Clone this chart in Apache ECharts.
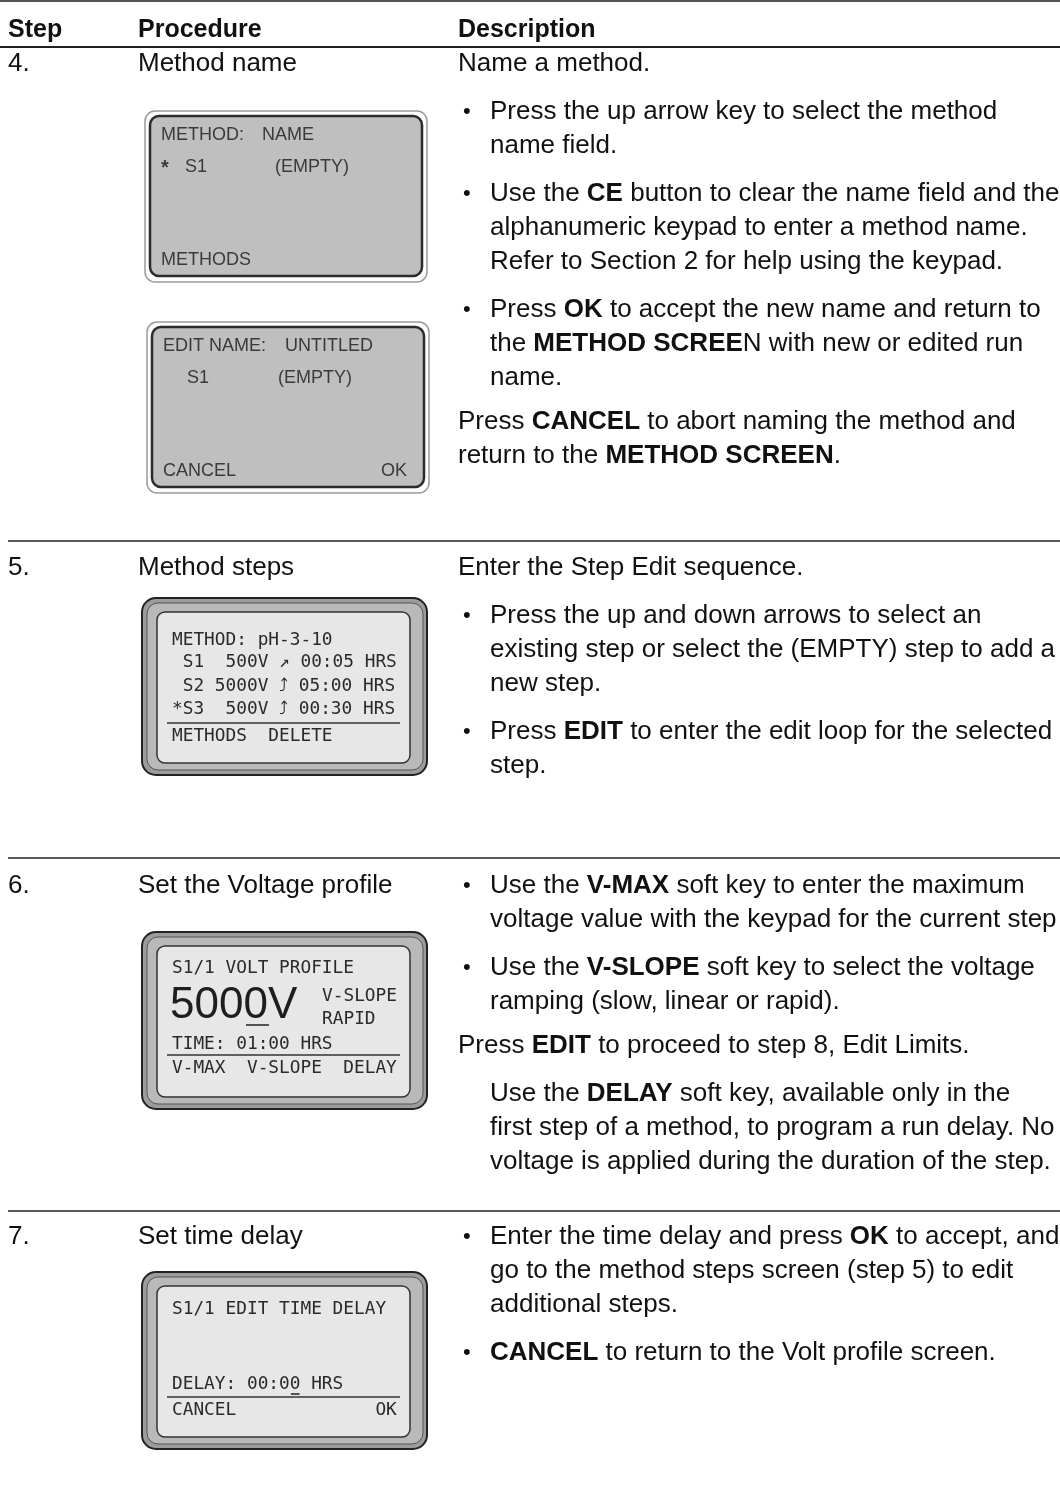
<!DOCTYPE html>
<html><head><meta charset="utf-8">
<script src="https://cdn.jsdelivr.net/npm/echarts@6/dist/echarts.min.js"></script>
<style>html,body{margin:0;padding:0;background:#fff}#c{width:1060px;height:1487px}</style>
</head><body><div id="c"></div><script>
// ---- content ----
const headers = ['Step', 'Procedure', 'Description'];
const stepNumbers = ['4.', '5.', '6.', '7.'];
const procedures = ['Method name', 'Method steps', 'Set the Voltage profile', 'Set time delay'];
// paragraph kinds: p = plain, b = bullet, i = indented plain
const desc4 = [
  ['p', ['Name a method.']],
  ['b', ['Press the up arrow key to select the method', 'name field.']],
  ['b', ['Use the **CE** button to clear the name field and the', 'alphanumeric keypad to enter a method name.', 'Refer to Section 2 for help using the keypad.']],
  ['b', ['Press **OK** to accept the new name and return to', 'the **METHOD SCREE**N with new or edited run', 'name.']],
  ['p', ['Press **CANCEL** to abort naming the method and', 'return to the **METHOD SCREEN**.']]
];
const desc5 = [
  ['p', ['Enter the Step Edit sequence.']],
  ['b', ['Press the up and down arrows to select an', 'existing step or select the (EMPTY) step to add a', 'new step.']],
  ['b', ['Press **EDIT** to enter the edit loop for the selected', 'step.']]
];
const desc6 = [
  ['b', ['Use the **V-MAX** soft key to enter the maximum', 'voltage value with the keypad for the current step']],
  ['b', ['Use the **V-SLOPE** soft key to select the voltage', 'ramping (slow, linear or rapid).']],
  ['p', ['Press **EDIT** to proceed to step 8, Edit Limits.']],
  ['i', ['Use the **DELAY** soft key, available only in the', 'first step of a method, to program a run delay. No', 'voltage is applied during the duration of the step.']]
];
const desc7 = [
  ['b', ['Enter the time delay and press **OK** to accept, and', 'go to the method steps screen (step 5) to edit', 'additional steps.']],
  ['b', ['**CANCEL** to return to the Volt profile screen.']]
];
const screenNameTitle = ['METHOD:', 'NAME'];
const screenNameRow = ['*', 'S1', '(EMPTY)'];
const screenNameFooter = ['METHODS', ''];
const screenEditTitle = ['EDIT NAME:', 'UNTITLED'];
const screenEditRow = ['', 'S1', '(EMPTY)'];
const screenEditFooter = ['CANCEL', 'OK'];
const screenStepsRows = ['METHOD: pH-3-10', ' S1  500V \u2197 00:05 HRS', ' S2 5000V \u2934 05:00 HRS', '*S3  500V \u2934 00:30 HRS'];
const screenStepsFooter = 'METHODS  DELETE';
const screenVoltTitle = 'S1/1 VOLT PROFILE';
const screenVoltValue = '5000V';
const screenVoltSide = ['V-SLOPE', 'RAPID'];
const screenVoltTime = 'TIME: 01:00 HRS';
const screenVoltFooter = 'V-MAX  V-SLOPE  DELAY';
const screenDelayTitle = 'S1/1 EDIT TIME DELAY';
const screenDelayValue = 'DELAY: 00:00 HRS';
const screenDelayFooter = 'CANCEL             OK';

// ---- layout ----
const SANS = '"Liberation Sans", Arial, Helvetica, sans-serif';
const MONO = '"DejaVu Sans Mono", "Liberation Mono", monospace';
const FS = 26, LH = 34;
const COL = {step: 8, proc: 138, desc: 458, bullet: 463, btext: 490};
const sectionY = [64, 568, 886, 1237];
const dividerY = [541, 858, 1211];
const descs = [desc4, desc5, desc6, desc7];
const g = [];

function richify(s) {
  return s.split('**').map((p, i) => p ? '{' + (i % 2 ? 'b' : 'n') + '|' + p + '}' : '').join('');
}
const richBody = {
  n: {fontFamily: SANS, fontSize: FS, fill: '#111'},
  b: {fontFamily: SANS, fontSize: FS, fontWeight: 'bold', fill: '#111'}
};
function txt(x, y, text, o) {
  o = o || {};
  g.push({type: 'text', x: x, y: y, silent: true, style: Object.assign({
    text: text, fontFamily: SANS, fontSize: FS, fill: '#111', align: 'left', verticalAlign: 'middle'
  }, o)});
}
function line(x1, y1, x2, y2, w, c) {
  g.push({type: 'line', silent: true, shape: {x1: x1, y1: y1, x2: x2, y2: y2}, style: {stroke: c || '#222', lineWidth: w || 1.5}});
}
function rect(x, y, w, h, r, fill, stroke, lw) {
  g.push({type: 'rect', silent: true, shape: {x: x, y: y, width: w, height: h, r: r}, style: {fill: fill, stroke: stroke, lineWidth: lw}});
}

// header
line(0, 1, 1060, 1, 2, '#555');
txt(COL.step, 30, headers[0], {fontWeight: 'bold', fontSize: 25});
txt(COL.proc, 30, headers[1], {fontWeight: 'bold', fontSize: 25});
txt(COL.desc, 30, headers[2], {fontWeight: 'bold', fontSize: 25});
line(0, 47, 1060, 47, 2, '#222');
dividerY.forEach(y => line(8, y, 1060, y, 1.5, '#222'));

// sections
sectionY.forEach((sy, si) => {
  txt(COL.step, sy, stepNumbers[si]);
  txt(COL.proc, sy, procedures[si]);
  let y = sy;
  descs[si].forEach((para, pi) => {
    const kind = para[0];
    if (pi > 0) y += (kind === 'p' ? 44 : 48);
    para[1].forEach((l, li) => {
      if (li > 0) y += LH;
      if (kind === 'b' && li === 0) txt(COL.bullet, y, '\u2022', {fontSize: 22});
      const x = kind === 'p' ? COL.desc : COL.btext;
      txt(x, y, richify(l), {rich: richBody});
    });
  });
});

// classic grey screens (section 4)
function classicScreen(x0, y0, title, row, footer, tOff, rowOff) {
  rect(x0, y0, 282, 171, 10, '#fdfdfd', '#9a9a9a', 1.5);
  rect(x0 + 5, y0 + 5, 272, 160, 9, '#bfbfbf', '#2b2b2b', 2.5);
  const o = {fontSize: 18, fill: '#3a3a3a'};
  txt(x0 + 16, y0 + 24, title[0], o);
  txt(x0 + tOff, y0 + 24, title[1], o);
  if (row[0]) txt(x0 + 16, y0 + 57, row[0], Object.assign({}, o, {fontSize: 20, fontWeight: 'bold'}));
  txt(x0 + 40, y0 + 56, row[1], o);
  txt(x0 + rowOff, y0 + 56, row[2], o);
  txt(x0 + 16, y0 + 149, footer[0], o);
  if (footer[1]) txt(x0 + 260, y0 + 149, footer[1], Object.assign({}, o, {align: 'right'}));
}
classicScreen(145, 111, screenNameTitle, screenNameRow, screenNameFooter, 117, 130);
classicScreen(147, 322, screenEditTitle, screenEditRow, screenEditFooter, 138, 131);

// LCD bezel screens
const MFS = 17.8, CW = MFS * 0.602;
function bezel(x0, y0) {
  rect(x0, y0, 285, 177, 14, '#9c9c9c', '#222', 2);
  rect(x0 + 5, y0 + 5, 276, 167, 11, '#b9b9b9', '#555', 1);
  rect(x0 + 15, y0 + 14, 253, 151, 8, '#e7e7e7', '#333', 1.5);
}
const mo = {fontFamily: MONO, fontSize: MFS, fill: '#2a2a2a'};
// section 5
(function () {
  const x0 = 142, y0 = 598, tx = x0 + 30;
  bezel(x0, y0);
  const ry = [42, 64, 88, 111];
  screenStepsRows.forEach((r, i) => txt(tx, y0 + ry[i], r, mo));
  line(x0 + 25, y0 + 125, x0 + 258, y0 + 125, 1.5, '#333');
  txt(tx, y0 + 138, screenStepsFooter, mo);
})();
// section 6
(function () {
  const x0 = 142, y0 = 932, tx = x0 + 30;
  bezel(x0, y0);
  txt(tx, y0 + 36, screenVoltTitle, mo);
  txt(tx - 2, y0 + 74, screenVoltValue, {fontFamily: SANS, fontSize: 44, fill: '#1e1e1e'});
  txt(tx + 14 * CW, y0 + 64, screenVoltSide[0], mo);
  txt(tx + 14 * CW, y0 + 87, screenVoltSide[1], mo);
  line(x0 + 104, y0 + 93, x0 + 127, y0 + 93, 1.5, '#222');
  txt(tx, y0 + 112, screenVoltTime, mo);
  line(x0 + 25, y0 + 123, x0 + 258, y0 + 123, 1.5, '#333');
  txt(tx, y0 + 136, screenVoltFooter, mo);
})();
// section 7
(function () {
  const x0 = 142, y0 = 1272, tx = x0 + 30;
  bezel(x0, y0);
  txt(tx, y0 + 37, screenDelayTitle, mo);
  txt(tx, y0 + 112, screenDelayValue, mo);
  line(tx + 11 * CW + 1, y0 + 122, tx + 12 * CW - 1, y0 + 122, 1.5, '#222');
  line(x0 + 25, y0 + 125, x0 + 258, y0 + 125, 1.5, '#333');
  txt(tx, y0 + 138, screenDelayFooter, mo);
})();

const chart = echarts.init(document.getElementById('c'), null, {renderer: 'canvas'});
chart.setOption({animation: false, backgroundColor: '#fff', graphic: {elements: g}});
</script></body></html>
